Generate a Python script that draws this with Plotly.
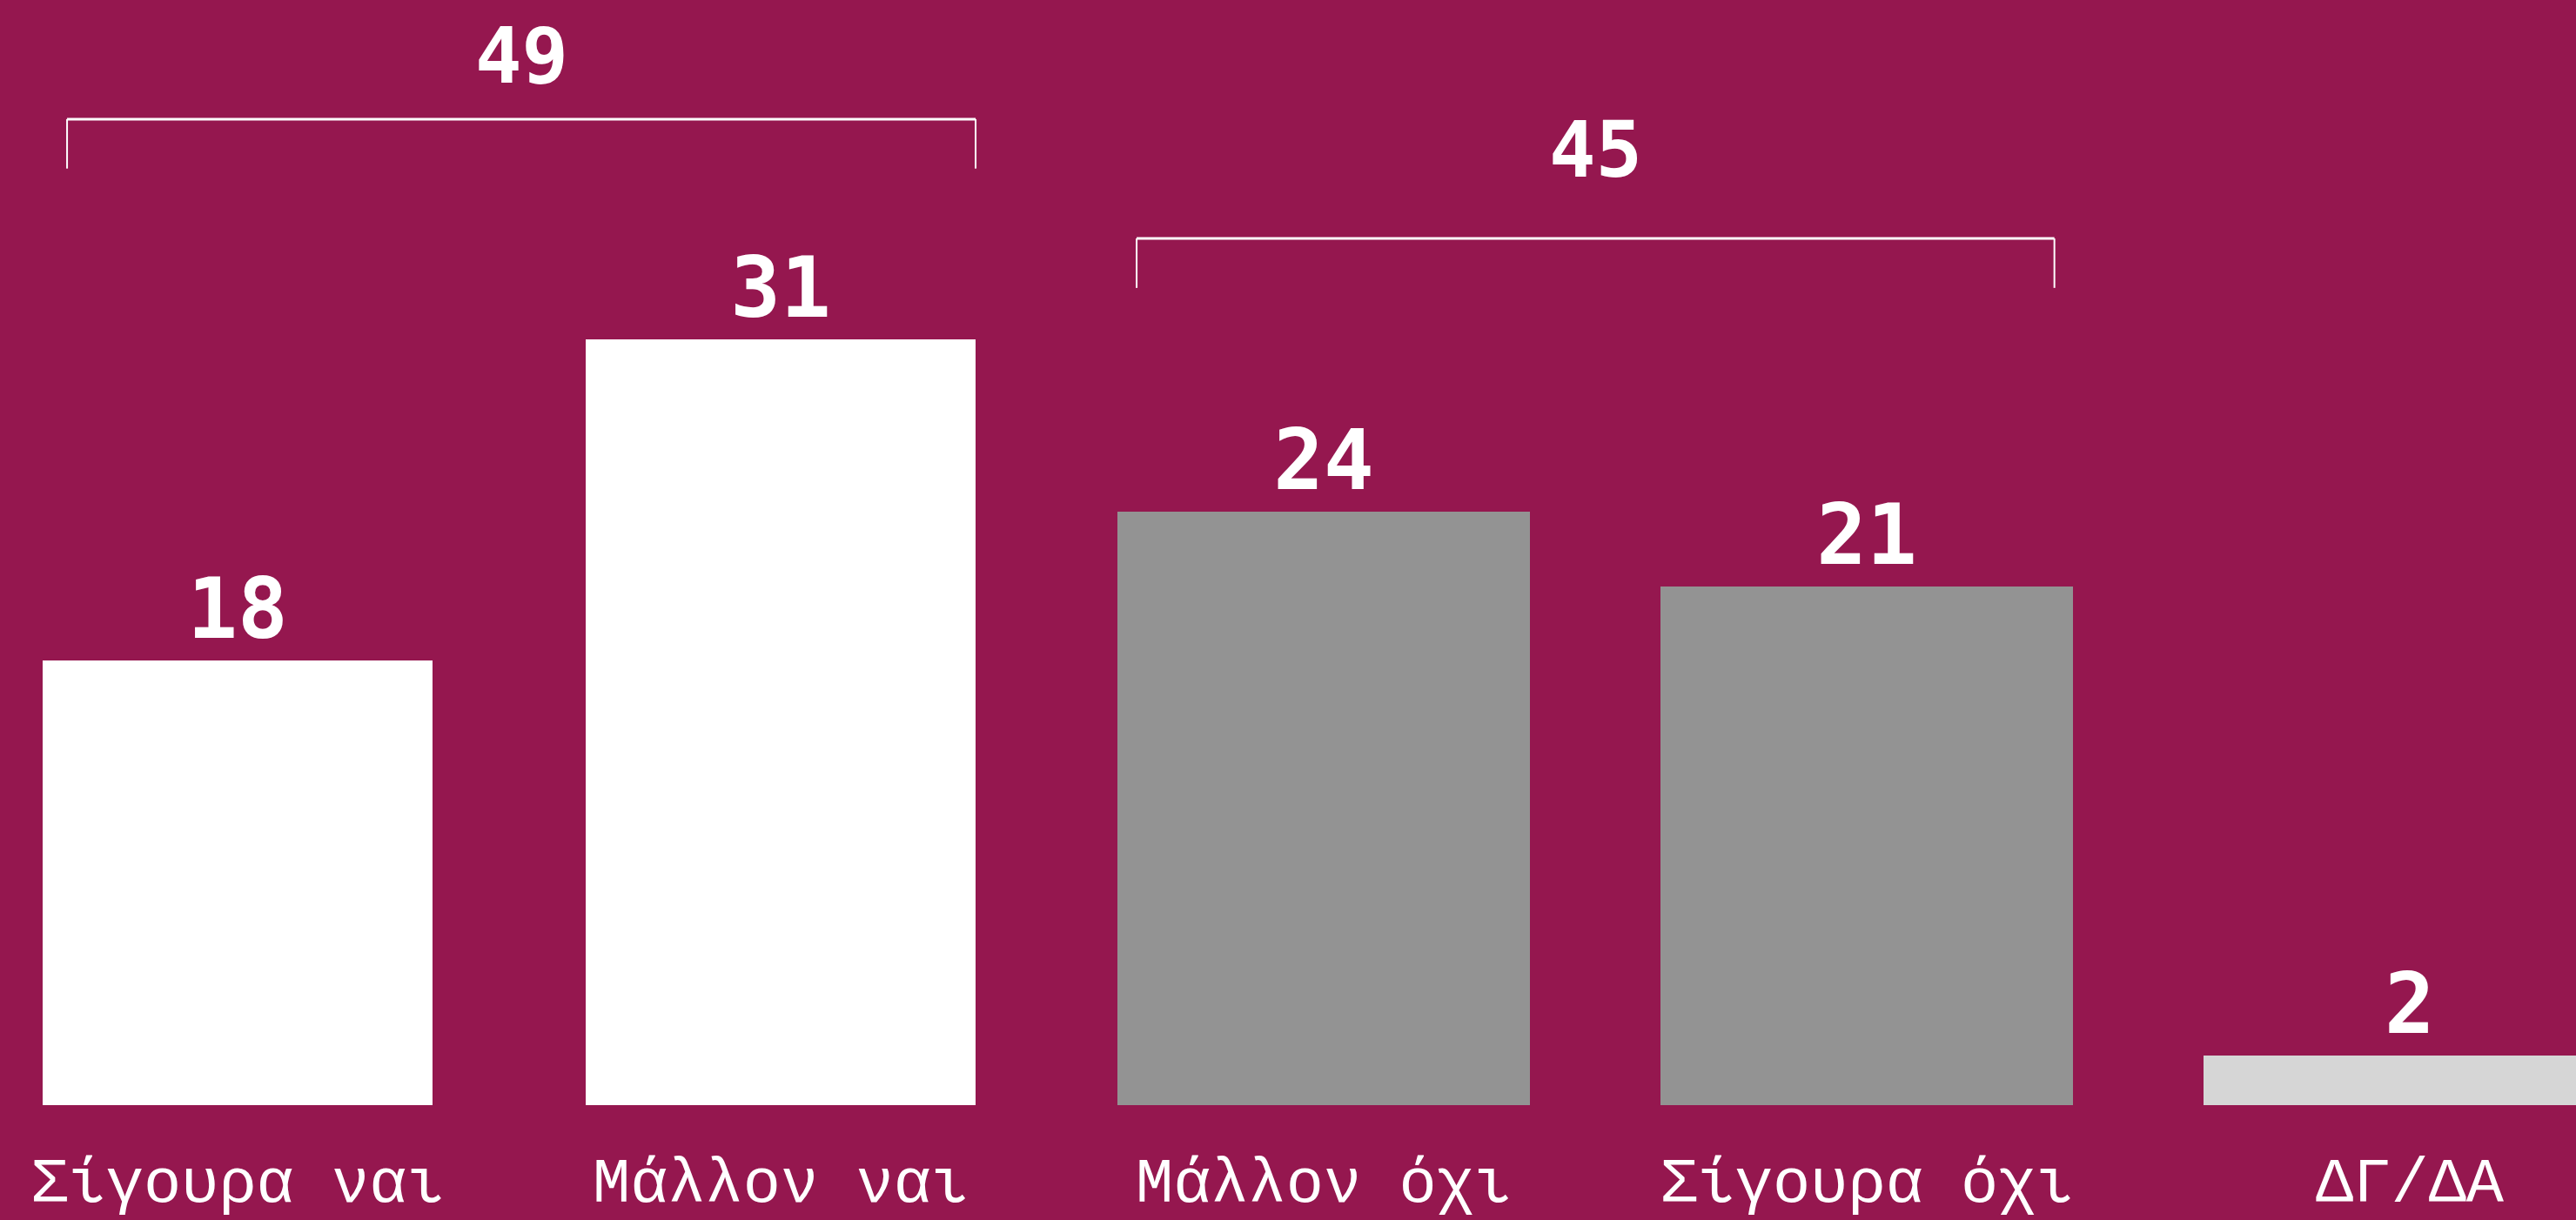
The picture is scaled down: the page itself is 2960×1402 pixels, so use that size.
import plotly.graph_objects as go

# ---- data ----
categories = ["Σίγουρα ναι", "Μάλλον ναι", "Μάλλον όχι", "Σίγουρα όχι", "ΔΓ/ΔΑ"]
values = [18, 31, 24, 21, 2]
bar_colors = ["#FFFFFF", "#FFFFFF", "#939393", "#939393", "#D6D6D6"]
bar_widths = [0.718, 0.718, 0.761, 0.761, 0.761]
# groups summed under a bracket: (first index, last index)
groups = [(0, 1), (2, 3)]

BG = "#95174F"
W, H = 2960, 1402
MONO = "DejaVu Sans Mono"
TICK_FONT = "Liberation Mono"

fig = go.Figure()
fig.add_trace(go.Bar(
    x=list(range(len(categories))),
    y=values,
    width=bar_widths,
    marker=dict(color=bar_colors, line=dict(width=0)),
    text=[str(v) for v in values],
    textposition="outside",
    textfont=dict(family=MONO, size=96, color="white", weight="bold"),
    cliponaxis=False,
    hoverinfo="skip",
))

# brackets
bracket_levels = [39.9, 35.07]
bracket_drop = 2.0
insets = [(0.045, 0.0), (0.036, 0.035)]
label_offsets = [2.55, 3.6]
shapes = []
annotations = []
for (a, b), lvl, (il, ir), off in zip(groups, bracket_levels, insets, label_offsets):
    x0 = a - bar_widths[a] / 2 + il
    x1 = b + bar_widths[b] / 2 - ir
    line = dict(color="white", width=3)
    shapes.append(dict(type="line", xref="x", yref="y", x0=x0, x1=x1, y0=lvl, y1=lvl, line=line))
    shapes.append(dict(type="line", xref="x", yref="y", x0=x0, x1=x0, y0=lvl, y1=lvl - bracket_drop, line=dict(color="white", width=2)))
    shapes.append(dict(type="line", xref="x", yref="y", x0=x1, x1=x1, y0=lvl, y1=lvl - bracket_drop, line=dict(color="white", width=2)))
    total = sum(values[a:b + 1])
    annotations.append(dict(
        x=(x0 + x1) / 2, y=lvl + off, xref="x", yref="y",
        text=str(total), showarrow=False, yanchor="middle", xanchor="center",
        font=dict(family=MONO, size=89, color="white", weight="bold"),
    ))

fig.update_layout(
    width=W, height=H,
    paper_bgcolor=BG, plot_bgcolor=BG,
    margin=dict(l=0, r=0, t=0, b=132, pad=0, autoexpand=False),
    showlegend=False,
    bargap=0,
    shapes=shapes,
    annotations=annotations,
    xaxis=dict(
        range=[-0.4375, 4.306],
        tickmode="array",
        tickvals=list(range(len(categories))),
        ticktext=categories,
        tickfont=dict(family=TICK_FONT, size=72, color="white"),
        ticklabelstandoff=38,
        automargin=False,
        showgrid=False, zeroline=False, showline=False, ticks="",
        fixedrange=True,
    ),
    yaxis=dict(
        range=[0, 44.72],
        visible=False,
        automargin=False,
        showgrid=False, zeroline=False,
        fixedrange=True,
    ),
)

fig.write_html(
    "out.html",
    config={"displayModeBar": False},
    post_script="document.body.style.margin='0';document.body.style.overflow='hidden';",
)
